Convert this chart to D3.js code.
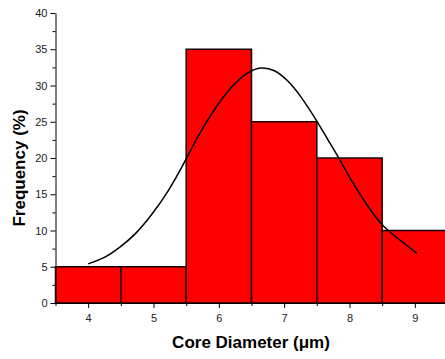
<!DOCTYPE html>
<html>
<head>
<meta charset="utf-8">
<script src="https://cdn.jsdelivr.net/npm/d3@7"></script>
<style>
  body { margin: 0; background: #fff; }
  svg { display: block; font-family: "Liberation Sans", Arial, sans-serif; }
</style>
</head>
<body>
<svg id="chart" width="445" height="359"></svg>
<script>
// histogram bins (core diameter, um) and frequency (%)
const binStart = [3.5, 4.5, 5.5, 6.5, 7.5, 8.5];
const binEnd = [4.5, 5.5, 6.5, 7.5, 8.5, 9.5];
const freq = [5, 5, 35, 25, 20, 10];

// fitted curve
const fitX = [4.0, 4.26, 4.49, 4.72, 4.97, 5.23, 5.47, 5.67, 5.92, 6.18, 6.44, 6.65, 6.85, 7.05, 7.26, 7.51, 7.67, 7.82, 8.03, 8.28, 8.51, 8.80, 9.03];
const fitY = [5.4, 6.2, 7.7, 9.4, 12.1, 15.4, 19.3, 22.9, 26.6, 29.8, 31.9, 32.6, 32.2, 30.8, 28.5, 25.0, 22.5, 20.3, 16.8, 13.3, 10.5, 8.5, 6.85];

const xTicks = [4, 5, 6, 7, 8, 9];
const xMinor = [3.5, 4.5, 5.5, 6.5, 7.5, 8.5, 9.5];
const yTicks = [0, 5, 10, 15, 20, 25, 30, 35, 40];
const yMinor = [2.5, 7.5, 12.5, 17.5, 22.5, 27.5, 32.5, 37.5];

const svg = d3.select('#chart');
const x = d3.scaleLinear().domain([3.5, 9.5]).range([55.5, 447.5]);
const y = d3.scaleLinear().domain([0, 40]).range([303, 13]);

// bars
svg.append('g')
  .selectAll('rect')
  .data(freq)
  .enter()
  .append('rect')
  .attr('x', (d, i) => x(binStart[i]))
  .attr('y', d => y(d))
  .attr('width', (d, i) => x(binEnd[i]) - x(binStart[i]))
  .attr('height', d => y(0) - y(d))
  .attr('fill', '#ff0000')
  .attr('stroke', '#1a0000')
  .attr('stroke-width', 1.5);

// fit curve
const line = d3.line()
  .x(d => x(d[0]))
  .y(d => y(d[1]))
  .curve(d3.curveBasis);

svg.append('path')
  .datum(fitX.map((v, i) => [v, fitY[i]]))
  .attr('d', line)
  .attr('fill', 'none')
  .attr('stroke', '#000')
  .attr('stroke-width', 1.5);

// axes
const styleAxis = g => {
  g.selectAll('.domain').attr('stroke', '#000');
  g.selectAll('.tick line').attr('stroke', '#000');
  g.selectAll('.tick text').attr('fill', '#222').style('font-size', '11px');
};

svg.append('g')
  .attr('transform', 'translate(0,' + y(0) + ')')
  .call(d3.axisBottom(x).tickValues(xMinor).tickSize(3).tickFormat(''))
  .call(g => g.select('.domain').remove())
  .call(styleAxis);

svg.append('g')
  .attr('transform', 'translate(0,' + y(0) + ')')
  .call(d3.axisBottom(x).tickValues(xTicks).tickSize(5).tickSizeOuter(0).tickPadding(6).tickFormat(d3.format('d')))
  .call(styleAxis);

svg.append('g')
  .attr('transform', 'translate(' + x(3.5) + ',0)')
  .call(d3.axisLeft(y).tickValues(yMinor).tickSize(3).tickFormat(''))
  .call(g => g.select('.domain').remove())
  .call(styleAxis);

svg.append('g')
  .attr('transform', 'translate(' + x(3.5) + ',0)')
  .call(d3.axisLeft(y).tickValues(yTicks).tickSize(5).tickSizeOuter(0).tickPadding(3))
  .call(styleAxis);

// titles
svg.append('text')
  .attr('x', 251)
  .attr('y', 348)
  .attr('text-anchor', 'middle')
  .style('font-size', '17px')
  .style('font-weight', 'bold')
  .text('Core Diameter (\u03bcm)');

svg.append('text')
  .attr('transform', 'translate(25,168) rotate(-90)')
  .attr('text-anchor', 'middle')
  .style('font-size', '17px')
  .style('font-weight', 'bold')
  .text('Frequency (%)');
</script>
</body>
</html>
